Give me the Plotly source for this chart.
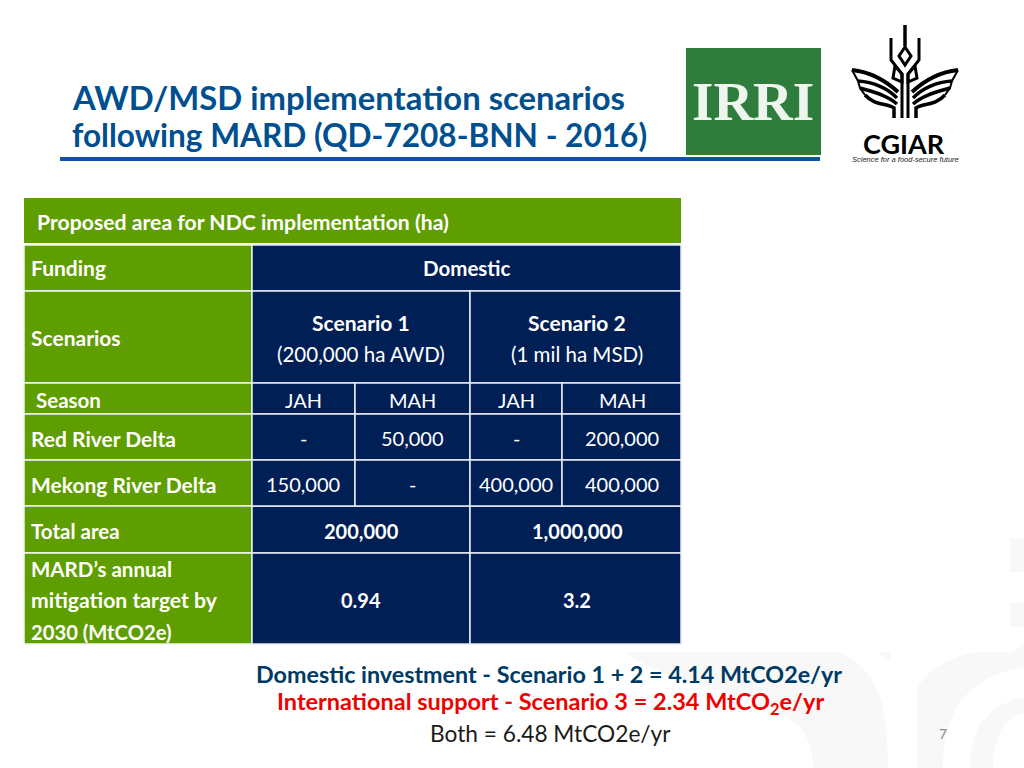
import plotly.graph_objects as go

FONT = "Lato"
GREEN = "#5f9e00"
NAVY = "#001f55"
WM = "#f8f8f8"

title_lines = ["AWD/MSD implementation scenarios", "following MARD (QD-7208-BNN - 2016)"]
table_head = "Proposed area for NDC implementation (ha)"
row_labels = ["Funding", "Scenarios", "Season", "Red River Delta", "Mekong River Delta", "Total area"]
target_label = ["MARD’s annual", "mitigation target by", "2030 (MtCO2e)"]
funding = "Domestic"
scenarios = ["Scenario 1", "Scenario 2"]
scenario_notes = ["(200,000 ha AWD)", "(1 mil ha MSD)"]
seasons = ["JAH", "MAH", "JAH", "MAH"]
red_river = ["-", "50,000", "-", "200,000"]
mekong = ["150,000", "-", "400,000", "400,000"]
totals = ["200,000", "1,000,000"]
targets = ["0.94", "3.2"]

# cell edges in slide pixels
xs = [24, 252, 355, 470, 562, 681]
ys = [198, 243, 245, 291, 383, 414, 460, 506, 553, 644]

fig = go.Figure()
fig.add_trace(go.Scatter(x=[0, 1024], y=[0, 768], mode="markers", marker_opacity=0,
                         hoverinfo="skip", showlegend=False))
shapes = []
notes = []


def rect(x0, y0, x1, y1, color, line=None):
    shapes.append(dict(type="rect", x0=x0, y0=y0, x1=x1, y1=y1, fillcolor=color, layer="below",
                       line=dict(color=line or color, width=1.5 if line else 0)))


def path(d, fill=None, line=None, width=0):
    shapes.append(dict(type="path", path=d, fillcolor=fill or "rgba(0,0,0,0)", layer="below",
                       line=dict(color=line or "rgba(0,0,0,0)", width=width)))


def text(x, y, s, size=20.5, color="white", bold=False, anchor="center", font=FONT, italic=False):
    if bold:
        s = f"<b>{s}</b>"
    if italic:
        s = f"<i>{s}</i>"
    # annotations sit about 2px inside their box when left anchored
    if anchor == "left":
        x -= 2
    notes.append(dict(x=x, y=y, text=s, showarrow=False, xanchor=anchor, yanchor="middle",
                      font=dict(family=font, size=size, color=color)))


# faint watermark behind the slide
path("M625,652 L840,652 C875,670 888,695 888,768 L813,768 C813,725 790,712 720,690 C680,680 650,670 625,652 Z", fill=WM)
path("M877,652 L890,652 L890,662 Z", fill=WM)
path("M917,768 L917,690 C925,670 945,660 975,652 L1012,652 L1024,643 L1024,668 C985,672 943,695 943,768 Z", fill=WM)
path("M970,768 C970,725 990,705 1024,697 L1024,713 C1005,718 993,735 993,768 Z", fill=WM)
rect(1010, 538, 1024, 572, WM)
rect(1010, 603, 1024, 627, WM)

# title
text(72, 97, title_lines[0], size=32.8, color="#004f8f", bold=True, anchor="left")
text(72, 135, title_lines[1], size=31.6, color="#004f8f", bold=True, anchor="left")
rect(60, 157, 820, 161, "#0b52a0")

# IRRI logo
rect(686, 48, 821, 155, "#2e7d3c")
text(753, 101, "IRRI", size=55, color="#eef5ee", bold=True, font="Liberation Serif")

# CGIAR logo
path("M905,25 L905,46", line="black", width=3.5)
path("M905,47 L899,56 L905,65 L911,56 Z", line="black", width=3)
for s in (-1, 1):
    def px(x):
        return 905 + s * x
    path(f"M{px(14)},38 L{px(14)},60 L{px(3)},74 L{px(3)},118", line="black", width=3)
    path(f"M{px(10)},66 L{px(3)},74 L{px(3)},82 L{px(12)},78 Z", line="black", width=3)
    path(f"M{px(53)},70 C{px(35)},72 {px(20)},80 {px(7)},92", line="black", width=4)
    path(f"M{px(47)},81 C{px(32)},82 {px(18)},88 {px(8)},98", line="black", width=3.5)
    path(f"M{px(45)},88 C{px(32)},92 {px(18)},95 {px(8)},104", line="black", width=3.5)
    path(f"M{px(40)},95 C{px(30)},106 {px(18)},103 {px(11)},108 L{px(11)},118", line="black", width=3.5)
    path(f"M{px(53)},70 L{px(47)},81 L{px(45)},88 L{px(40)},95", line="black", width=2)
text(904, 143, "CGIAR", size=27, color="black", bold=True)
text(905, 159, "Science for a food-secure future", size=7.5, color="#222222", italic=True, font="Liberation Sans")

# table cells
rect(xs[0], ys[0], xs[5], ys[1], GREEN)
for y0, y1 in zip(ys[2:-1], ys[3:]):
    rect(xs[0], y0, xs[1], y1, GREEN, line="#f4f8f0")
rect(xs[1], ys[2], xs[5], ys[3], NAVY, line="#e8edf5")
for x0, x1 in [(xs[1], xs[3]), (xs[3], xs[5])]:
    rect(x0, ys[3], x1, ys[4], NAVY, line="#e8edf5")
    rect(x0, ys[7], x1, ys[8], NAVY, line="#e8edf5")
    rect(x0, ys[8], x1, ys[9], NAVY, line="#e8edf5")
for i in range(4):
    for r in range(4, 7):
        rect(xs[i + 1], ys[r], xs[i + 2], ys[r + 1], NAVY, line="#e8edf5")

# table text
text(37, 222, table_head, size=21.2, bold=True, anchor="left")
text(31, 267.5, row_labels[0], size=21, bold=True, anchor="left")
text(467, 268, funding, bold=True)
text(31, 337.5, row_labels[1], size=21, bold=True, anchor="left")
text(36, 400, row_labels[2], size=20.5, bold=True, anchor="left")
text(31, 438, row_labels[3], size=21, bold=True, anchor="left")
text(31, 484, row_labels[4], size=21, bold=True, anchor="left")
text(31, 531, row_labels[5], size=20.5, bold=True, anchor="left")
for y, s, sz in zip([569, 600, 632], target_label, [20.5, 21.2, 20.2]):
    text(31, y, s, size=sz, bold=True, anchor="left")

mid = [361, 577]
for i in range(2):
    text(mid[i], 322, scenarios[i], size=21, bold=True)
    text(mid[i], 354, scenario_notes[i])
    text(mid[i], 531, totals[i], size=20, bold=True)
    text(mid[i], 600, targets[i], size=20, bold=True)
col_mid = [303, 412, 516, 622]
for i in range(4):
    text(col_mid[i], 400, seasons[i], size=20)
    text(col_mid[i], 438, red_river[i], size=20)
    text(col_mid[i], 484, mekong[i], size=20)

# totals under the table
text(549, 673.5, "Domestic investment - Scenario 1 + 2 = 4.14 MtCO2e/yr", size=23.3, color="#003a63", bold=True)
text(550, 703, "International support - Scenario 3 = 2.34 MtCO<sub>2</sub>e/yr", size=23.5, color="#f00000", bold=True)
text(550, 733.5, "Both = 6.48 MtCO2e/yr", size=22.7, color="#1a1a1a")
text(943, 733, "7", size=14, color="#8a8a8a")

fig.update_layout(
    width=1024, height=768,
    margin=dict(l=0, r=0, t=0, b=0),
    plot_bgcolor="white", paper_bgcolor="white",
    showlegend=False,
    shapes=shapes, annotations=notes,
    xaxis=dict(range=[0, 1024], visible=False, fixedrange=True),
    yaxis=dict(range=[768, 0], visible=False, fixedrange=True),
)

fig.write_html("out.html", config={"displayModeBar": False},
               post_script="document.body.style.margin='0';")
